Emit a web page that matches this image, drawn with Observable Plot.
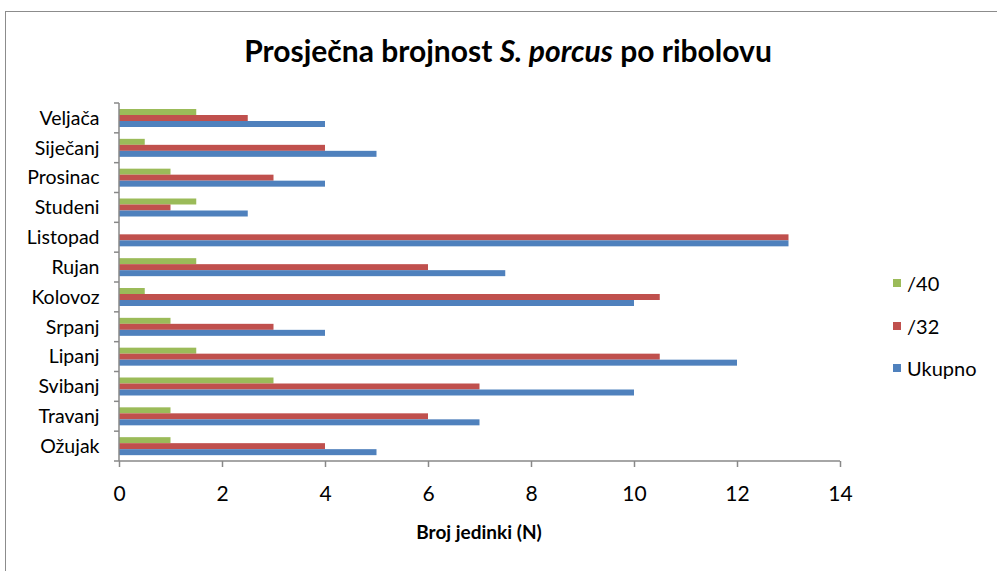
<!DOCTYPE html>
<html>
<head>
<meta charset="utf-8">
<script src="https://cdn.jsdelivr.net/npm/d3@7"></script>
<script src="https://cdn.jsdelivr.net/npm/@observablehq/plot@0.6"></script>
<style>
  html, body { margin: 0; padding: 0; background: #fff; overflow: hidden; }
  #wrap { position: relative; width: 997px; height: 571px; font-family: Lato, "Open Sans", sans-serif; color: #000; }
  #frame { position: absolute; left: 5px; top: 11px; width: 1100px; height: 700px; border-left: 1.5px solid #8c8c8c; border-top: 1.5px solid #8c8c8c; }
  #title { position: absolute; left: 0; top: 32px; width: 1016px; text-align: center; font-size: 30px; font-weight: bold; }
  #xlabel { position: absolute; left: 0; top: 520px; width: 958px; text-align: center; font-size: 19px; font-weight: bold; }
  #chart { position: absolute; left: 0; top: 0; }
  .leg { position: absolute; left: 893px; font-size: 20px; display: flex; align-items: center; }
  .leg span.sw { display: inline-block; width: 8px; height: 8px; margin-right: 6px; }
</style>
</head>
<body>
<div id="wrap">
  <div id="frame"></div>
  <div id="chart"></div>
  <div id="title">Prosječna brojnost <i>S. porcus</i> po ribolovu</div>
  <div id="xlabel">Broj jedinki (N)</div>
  <div id="legend"></div>
</div>
<script>
// Data
const months = ["Veljača", "Siječanj", "Prosinac", "Studeni", "Listopad", "Rujan", "Kolovoz", "Srpanj", "Lipanj", "Svibanj", "Travanj", "Ožujak"];
const seriesNames = ["/40", "/32", "Ukupno"];
const values40 = [1.5, 0.5, 1, 1.5, 0, 1.5, 0.5, 1, 1.5, 3, 1, 1];
const values32 = [2.5, 4, 3, 1, 13, 6, 10.5, 3, 10.5, 7, 6, 4];
const valuesUkupno = [4, 5, 4, 2.5, 13, 7.5, 10, 4, 12, 10, 7, 5];
const xTicks = [0, 2, 4, 6, 8, 10, 12, 14];
const colors = ["#9BBB59", "#C0504D", "#4F81BD"];

(function () {
  const seriesValues = [values40, values32, valuesUkupno];
  const rows = [];
  months.forEach((m, i) => {
    seriesNames.forEach((s, j) => rows.push({month: m, series: s, value: seriesValues[j][i]}));
  });

  const axisColor = "#888";

  const plot = Plot.plot({
    width: 997,
    height: 571,
    marginLeft: 119,
    marginRight: 157,
    marginTop: 103,
    marginBottom: 110,
    style: {fontFamily: "Lato, 'Open Sans', sans-serif", background: "transparent", color: "#000"},
    x: {domain: [0, 14], ticks: xTicks},
    y: {domain: seriesNames, paddingInner: 0, paddingOuter: 0.73, axis: null},
    fy: {domain: months, padding: 0, round: false},
    color: {domain: seriesNames, range: colors},
    marks: [
      Plot.barX(rows, {x: "value", y: "series", fy: "month", fill: "series", insetTop: 0, insetBottom: 0}),
      Plot.axisFy({anchor: "left", tickSize: 0, tickPadding: 20, fontSize: 19.5, label: null}),
      Plot.axisX({anchor: "bottom", ticks: xTicks, tickSize: 6, tickPadding: 19, fontSize: 21, label: null, stroke: axisColor, strokeWidth: 1.5})
    ]
  });

  document.getElementById("chart").appendChild(plot);

  // boundary tick marks on the category axis and axis lines, from the plot's scales
  const fy = plot.scale("fy");
  const xs = plot.scale("x");
  const x0 = xs.apply ? xs.apply(0) : xs.range[0];
  const x14 = xs.apply ? xs.apply(14) : xs.range[1];
  const n = months.length;
  const yTop = fy.range[0], yBottom = fy.range[1];
  const step = (yBottom - yTop) / n;
  const svg = d3.select(plot);
  const g = svg.append("g").attr("stroke", axisColor).attr("stroke-width", 1.5);
  for (let i = 0; i <= n; i++) {
    const yy = yTop + i * step;
    g.append("line").attr("x1", x0 - 5).attr("x2", x0).attr("y1", yy).attr("y2", yy);
  }
  g.append("line").attr("x1", x0).attr("x2", x14).attr("y1", yBottom).attr("y2", yBottom);
  g.append("line").attr("x1", x0).attr("x2", x0).attr("y1", yTop).attr("y2", yBottom);

  // Legend
  const legend = document.getElementById("legend");
  const legendTops = [283, 326, 368];
  seriesNames.forEach((s, j) => {
    const d = document.createElement("div");
    d.className = "leg";
    d.style.top = (legendTops[j] - 12) + "px";
    d.style.height = "24px";
    d.innerHTML = `<span class="sw" style="background:${colors[j]}"></span><span>${s}</span>`;
    legend.appendChild(d);
  });
})();
</script>
</body>
</html>
